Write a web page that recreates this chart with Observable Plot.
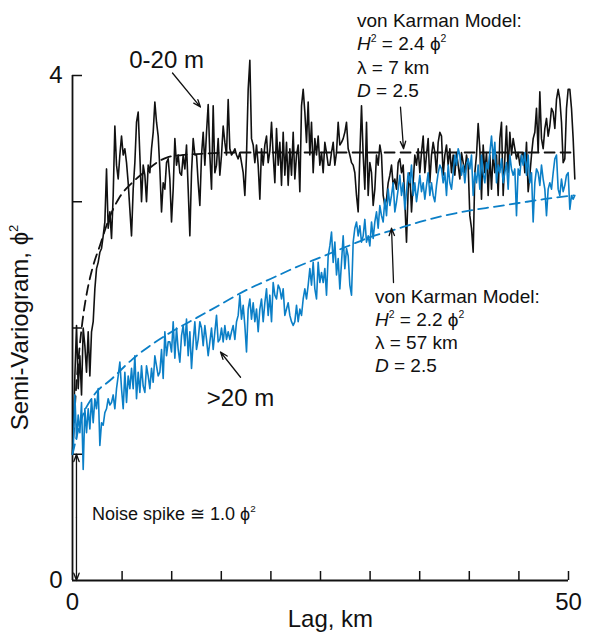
<!DOCTYPE html>
<html><head><meta charset="utf-8">
<script src="https://cdn.jsdelivr.net/npm/d3@7"></script>
<script src="https://cdn.jsdelivr.net/npm/@observablehq/plot@0.6"></script>
<style>
html,body{margin:0;padding:0;background:#fff;}
#chart{width:590px;height:635px;}
</style></head><body><div id="chart"></div>
<script>
const FONT = "'Liberation Sans', Arial, Helvetica, sans-serif";
const INK = "#111111";
const BLUE = "#0b7fc7";

// lag bins of the experimental semi-variograms (km)
const lagStart = 0.07;
const lagStep = 0.168;

// 0-20 m semi-variogram (phi^2)
const shallowVals = [
1.12,1.62,2.02,1.52,1.78,1.47,2.0,1.86,1.65,1.97,
1.62,1.97,2.05,2.31,2.47,2.52,2.60,2.63,2.73,2.84,
3.26,2.79,2.92,2.71,3.05,3.60,3.29,3.18,3.37,3.52,
3.37,3.42,3.31,3.15,2.94,2.73,3.10,3.31,3.63,3.71,
3.37,3.0,3.29,3.21,3.0,3.29,3.23,3.42,3.55,3.79,
3.63,3.52,3.26,2.92,3.15,3.10,3.31,3.34,3.18,
2.84,3.10,3.50,3.29,3.37,3.23,3.21,3.37,3.26,3.45,
3.10,2.73,3.23,3.50,3.37,3.37,3.15,2.97,3.37,3.55,
3.29,3.55,3.77,3.37,3.10,3.76,3.23,3.29,3.50,3.21,
3.37,3.60,3.47,3.37,3.81,3.42,3.37,3.39,3.42,3.37,
3.34,3.39,3.31,3.23,3.05,3.37,3.89,4.12,3.50,3.45,
3.31,3.45,3.29,3.02,3.42,3.29,3.45,3.52,3.31,3.40,
3.63,3.37,3.15,3.58,3.29,3.47,3.13,3.55,3.21,3.47,
3.13,3.42,3.21,3.55,3.18,3.37,3.45,3.08,3.76,3.89,
3.71,3.47,3.79,3.37,3.63,3.23,3.50,3.37,3.52,3.29,
3.39,3.23,3.47,3.39,3.29,3.29,3.39,3.47,3.29,3.39,
3.63,3.45,3.47,3.50,3.55,3.63,3.42,3.37,3.31,3.29,
3.23,3.05,2.92,3.37,3.76,3.37,3.10,3.63,3.05,3.31,
3.23,2.97,3.10,3.37,3.29,3.45,3.37,3.05,2.97,3.02,
3.15,3.21,3.29,3.13,3.18,3.10,3.31,3.34,3.23,3.29,
3.0,2.68,3.10,3.23,2.92,3.15,3.37,3.29,3.42,3.23,
3.39,3.52,3.23,3.37,3.50,3.15,3.37,3.47,3.39,3.23,
3.47,3.55,3.52,3.21,3.37,3.45,3.29,3.42,3.23,3.37,
3.21,3.39,3.29,3.18,3.39,3.31,3.23,3.37,3.29,2.89,
2.79,2.60,3.23,3.37,3.62,3.42,3.02,3.45,3.23,3.39,
3.05,3.37,3.10,3.39,3.23,3.37,3.05,3.50,3.63,3.05,
3.34,3.60,3.23,3.55,3.37,3.50,3.42,3.34,3.39,3.29,
3.37,3.39,3.23,3.47,3.08,3.21,3.37,3.50,3.55,3.74,
3.39,3.87,3.50,3.42,3.58,3.66,3.52,3.60,3.74,3.71,
3.58,3.81,3.89,3.81,3.63,3.31,3.34,3.74,3.89,3.89,
3.74,3.50,3.18
];

// >20 m semi-variogram (phi^2)
const deepVals = [
1.02,1.47,1.12,1.31,1.17,1.41,0.88,1.36,1.17,1.36,
1.20,1.44,1.25,1.44,1.36,1.52,1.07,1.25,1.23,1.33,
1.36,1.44,1.39,1.41,1.47,1.36,1.52,1.62,1.73,1.52,
1.36,1.65,1.41,1.62,1.52,1.68,1.52,1.78,1.44,1.65,
1.49,1.70,1.54,1.49,1.70,1.62,1.52,1.68,1.57,1.78,
1.70,1.62,1.65,1.83,1.60,1.97,1.78,1.89,1.89,
1.81,2.05,1.76,2.0,1.83,1.73,1.94,2.02,1.86,2.07,
1.78,1.97,1.68,1.89,2.05,1.83,1.91,2.05,2.0,1.86,
2.02,1.91,1.78,1.89,2.0,1.83,1.97,2.10,1.89,1.91,
2.0,1.89,2.02,1.91,1.97,1.91,1.97,2.02,1.91,2.05,
2.10,2.26,2.07,2.18,2.02,1.81,2.15,2.23,2.07,2.20,
2.05,2.15,1.97,2.15,2.23,2.05,2.20,2.31,2.10,2.26,
2.05,2.36,2.26,2.23,2.34,2.31,2.23,2.31,2.10,2.15,
2.20,2.10,2.05,2.02,2.05,2.18,2.05,2.15,2.10,2.23,
2.31,2.23,2.34,2.47,2.34,2.52,2.31,2.23,2.52,2.36,
2.44,2.36,2.47,2.26,2.57,2.65,2.76,2.52,2.68,2.42,
2.55,2.31,2.52,2.73,2.47,2.63,2.57,2.34,2.26,2.68,
2.79,2.84,2.73,2.81,2.68,2.73,2.86,2.68,2.73,2.65,
2.84,2.71,2.84,2.92,2.79,2.97,2.89,2.84,3.02,2.89,
3.10,2.97,3.05,3.15,2.92,3.0,3.10,3.21,3.05,3.15,
2.94,3.08,3.23,3.15,3.29,3.05,3.15,3.0,3.10,3.21,
3.08,3.15,3.02,3.13,3.23,3.05,3.15,3.05,3.0,3.13,
3.23,3.29,3.26,3.15,3.23,3.05,3.29,3.15,3.10,3.23,
3.37,3.29,3.42,3.37,3.21,3.29,3.15,3.29,3.34,3.26,
3.37,3.05,3.23,3.15,3.29,3.10,3.37,3.23,3.15,3.31,
3.26,3.39,3.52,3.34,3.47,3.15,3.29,3.23,3.34,3.15,
3.23,3.31,3.10,3.37,3.26,3.21,3.26,2.89,3.26,3.21,
3.37,3.29,3.39,3.21,3.37,3.15,3.23,2.84,3.15,3.26,
3.23,3.13,3.29,3.18,3.10,2.89,3.10,3.15,3.10,3.23,
3.34,3.37,3.10,3.05,3.18,3.08,3.13,3.21,3.23,2.94,
3.05,3.02,3.05
];

// von Karman model curves
const shallowModelLag = [0, 0.3, 0.6, 1.0, 1.5, 2, 2.75, 3.7, 4.7, 6, 7.5, 8.5, 9.5, 11, 13, 16, 20, 30, 40, 50.2];
const shallowModelVal = [1.0, 1.45, 1.75, 2.05, 2.3, 2.47, 2.65, 2.87, 3.03, 3.15, 3.25, 3.31, 3.35, 3.37, 3.38, 3.39, 3.39, 3.39, 3.39, 3.39];
const deepModelLag = [0, 1, 2, 4, 6, 8, 10, 12.5, 15, 17.5, 20, 22.5, 25, 27.5, 30, 32.5, 35, 37.5, 40, 42.5, 45, 47.5, 50.5];
const deepModelVal = [1.0, 1.3, 1.45, 1.6, 1.75, 1.87, 1.97, 2.08, 2.19, 2.3, 2.39, 2.48, 2.56, 2.64, 2.72, 2.78, 2.84, 2.89, 2.93, 2.96, 2.99, 3.02, 3.05];

// axes
const xTickValues = [5, 10, 15, 20, 25, 30, 35, 40, 45, 50];
const xTickLabels = [0, 50];
const yTickValues = [1, 2, 3, 4];
const yTickLabels = [0, 4];
const xTitle = "Lag, km";
const yTitle = "Semi-Variogram, ϕ";

// annotations
const curveLabels = [
  {label: "0-20 m", lag: 9.48, val: 4.06},
  {label: ">20 m", lag: 16.94, val: 1.386}
];
const pointers = [
  {x1: 10.08, y1: 4.02, x2: 12.9, y2: 3.75},
  {x1: 33.06, y1: 3.75, x2: 33.37, y2: 3.42},
  {x1: 32.36, y1: 2.36, x2: 32.16, y2: 2.79},
  {x1: 16.94, y1: 1.61, x2: 14.92, y2: 1.81},
  {x1: 0.4, y1: 0.5, x2: 0.4, y2: 1.0},
  {x1: 0.4, y1: 0.5, x2: 0.4, y2: 0.0}
];
const shallowModelText = [
  [{t: "von Karman Model:"}],
  [{t: "H", i: 1}, {t: "2", sup: 1}, {t: " = 2.4 ϕ"}, {t: "2", sup: 1}],
  [{t: "λ = 7 km"}],
  [{t: "D", i: 1}, {t: " = 2.5"}]
];
const deepModelText = [
  [{t: "von Karman Model:"}],
  [{t: "H", i: 1}, {t: "2", sup: 1}, {t: " = 2.2 ϕ"}, {t: "2", sup: 1}],
  [{t: "λ = 57 km"}],
  [{t: "D", i: 1}, {t: " = 2.5"}]
];
const noiseText = [[{t: "Noise spike ≅ 1.0 ϕ"}, {t: "2", sup: 1}]];
const shallowModelAnchor = {lag: 28.73, val: 4.38};
const deepModelAnchor = {lag: 30.54, val: 2.194};
const noiseAnchor = {lag: 2.02, val: 0.475};

const rows = vals => vals.map((v, i) => ({lag: lagStart + i * lagStep, v}));
const modelRows = (lags, vals) => lags.map((l, i) => ({lag: l, v: vals[i]}));

const plot = Plot.plot({
  width: 590, height: 635,
  marginLeft: 72, marginRight: 22, marginTop: 75, marginBottom: 55,
  x: {domain: [0, 50]},
  y: {domain: [0, 4]},
  style: {fontFamily: FONT, fontSize: "24px", color: INK, background: "#fff", overflow: "visible"},
  marks: [
    Plot.axisX(xTickLabels, {tickSize: 0, tickPadding: 12, fontSize: 24, label: null, tickFormat: d => String(d)}),
    Plot.axisY(yTickLabels, {tickSize: 0, tickPadding: 10, fontSize: 24, label: null, tickFormat: d => String(d)}),
    Plot.ruleX(xTickValues, {x: d => d, y1: () => 0, y2: () => 0, insetTop: -9, stroke: INK, strokeWidth: 1.5}),
    Plot.ruleY(yTickValues, {y: d => d, x1: () => 0, x2: () => 0, insetRight: -10, stroke: INK, strokeWidth: 1.5}),
    Plot.ruleX([0], {stroke: INK, strokeWidth: 1.8}),
    Plot.ruleY([0], {stroke: INK, strokeWidth: 1.8}),
    Plot.line(rows(shallowVals), {x: "lag", y: "v", stroke: INK, strokeWidth: 1.6}),
    Plot.line(modelRows(shallowModelLag, shallowModelVal), {x: "lag", y: "v", stroke: INK, strokeWidth: 1.8, strokeDasharray: "10,6", curve: "monotone-x"}),
    Plot.line(rows(deepVals), {x: "lag", y: "v", stroke: BLUE, strokeWidth: 1.6}),
    Plot.line(modelRows(deepModelLag, deepModelVal), {x: "lag", y: "v", stroke: BLUE, strokeWidth: 1.8, strokeDasharray: "10,6", curve: "monotone-x"}),
    Plot.arrow(pointers, {x1: "x1", y1: "y1", x2: "x2", y2: "y2", stroke: INK, strokeWidth: 1.3, headLength: 9, headAngle: 40}),
    Plot.text(curveLabels, {x: "lag", y: "val", text: "label", fontSize: 24, lineAnchor: "bottom", textAnchor: "middle", fill: INK}),
    Plot.text([xTitle], {x: () => 26, y: () => 0, text: d => d, dy: 46, fontSize: 24, lineAnchor: "bottom", textAnchor: "middle", fill: INK})
  ]
});
document.getElementById("chart").appendChild(plot);

const sx = plot.scale("x"), sy = plot.scale("y");
const svg = d3.select(plot);

function richBlock(lines, x, y, size, step, g) {
  lines.forEach((parts, li) => {
    const t = g.append("text").attr("x", x).attr("y", y + li * step)
      .attr("text-anchor", "start")
      .attr("font-size", size).attr("fill", INK).attr("font-family", FONT);
    let shifted = 0;
    for (const p of parts) {
      const s = t.append("tspan").text(p.t);
      if (p.i) s.attr("font-style", "italic");
      if (p.sup) { const d = size * 0.42; s.attr("font-size", size * 0.55).attr("dy", -d); shifted = d; }
      else if (shifted) { s.attr("dy", shifted); shifted = 0; }
    }
  });
}
const ann = svg.append("g").attr("text-anchor", "start");
richBlock(shallowModelText, sx.apply(shallowModelAnchor.lag), sy.apply(shallowModelAnchor.val), 19, 23.3, ann);
richBlock(deepModelText, sx.apply(deepModelAnchor.lag), sy.apply(deepModelAnchor.val), 19, 23, ann);
richBlock(noiseText, sx.apply(noiseAnchor.lag), sy.apply(noiseAnchor.val), 18, 0, ann);

// rotated y-axis title
const yt = svg.append("text")
  .attr("transform", `translate(${sx.apply(0) - 44},${sy.apply(2.0)}) rotate(-90)`)
  .attr("text-anchor", "middle").attr("font-size", 24).attr("fill", INK).attr("font-family", FONT);
yt.append("tspan").text(yTitle);
yt.append("tspan").text("2").attr("font-size", 13).attr("dy", -10);
</script>
</body></html>
